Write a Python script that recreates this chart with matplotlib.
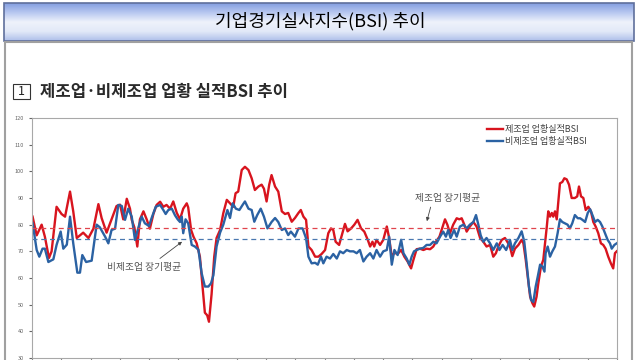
import numpy as np
import matplotlib
matplotlib.use('Agg')
import matplotlib.pyplot as plt
from matplotlib.colors import LinearSegmentedColormap
from matplotlib.patches import Rectangle

plt.rcParams['font.family'] = ['Noto Sans CJK KR', 'DejaVu Sans']

# 경과 연수 (2003년 1월 = 0), 업황실적 BSI
mfg_t = [0.02, 0.16, 0.33, 0.44, 0.58, 0.67, 0.84, 1.01, 1.13, 1.30, 1.41, 1.53, 1.75, 1.93, 2.10, 2.27,
         2.38, 2.55, 2.72, 2.89, 3.01, 3.12, 3.24, 3.35,
         3.41, 3.50, 3.60, 3.69, 3.81, 3.92, 4.03, 4.15, 4.26, 4.38, 4.49, 4.60, 4.72, 4.83, 4.95, 5.06,
         5.17, 5.29, 5.34, 5.44, 5.52, 5.63, 5.74, 5.82, 5.91, 5.99, 6.05, 6.14, 6.23, 6.31, 6.43,
         6.54, 6.66, 6.77, 6.88, 6.96, 7.05, 7.17, 7.28, 7.40, 7.51, 7.62, 7.74, 7.85, 7.93, 8.02, 8.11,
         8.19, 8.31, 8.42, 8.54, 8.65, 8.76, 8.88, 8.99, 9.11, 9.19, 9.28, 9.37, 9.45, 9.56, 9.68, 9.79,
         9.90, 10.02, 10.13, 10.22, 10.30, 10.38, 10.50, 10.61, 10.70, 10.79, 10.91, 11.02, 11.13, 11.25,
         11.36, 11.48, 11.56, 11.64, 11.70, 11.78, 11.90, 12.01, 12.13, 12.21, 12.30, 12.39, 12.50, 12.62,
         12.73, 12.84, 12.96, 13.04,
         13.15, 13.26, 13.38, 13.49, 13.61, 13.72, 13.81, 13.93, 14.04, 14.12, 14.20, 14.29, 14.40, 14.52,
         14.61, 14.69, 14.78, 14.86, 14.97, 15.09, 15.20, 15.32, 15.43, 15.54, 15.66, 15.77, 15.86, 15.94,
         16.06, 16.17, 16.28,
         16.34, 16.42, 16.51, 16.63, 16.74, 16.80, 16.88, 16.95, 17.03, 17.11, 17.17, 17.25, 17.31, 17.40,
         17.48, 17.54, 17.60, 17.65, 17.71, 17.77, 17.82, 17.88, 17.94, 17.99, 18.05, 18.13, 18.20, 18.28,
         18.36, 18.45, 18.56, 18.64, 18.70, 18.77, 18.85, 18.93, 19.02, 19.11, 19.19, 19.27, 19.36, 19.45,
         19.53, 19.61, 19.70, 19.79, 19.87, 19.93, 19.99]
mfg_bsi = [83, 76, 80, 75.5, 67.5, 70, 86.7, 84, 83, 92.4, 85, 75, 77, 75, 78.5, 87.7,
           82.5, 77, 82, 87, 87.5, 82, 89.7, 86,
           81.8, 79, 71.8, 82, 85, 82, 78.5, 84, 87.4, 88.6, 86.7, 87.4, 86, 88.7, 84.4, 82,
           86, 88, 86.5, 78, 75.5, 73, 68, 58, 47, 46, 43.6, 54, 68, 75, 78,
           84.3, 89.3, 88, 86.7, 91.8, 92.4, 100.5, 101.7, 100.5, 97.4, 93, 94.3, 95, 93.5, 88.7, 95,
           98.6, 94.3, 92.4, 85, 84, 84.4, 81.1, 82.5, 84.4, 85.5, 83, 81.8, 71.8, 70.5, 68, 68,
           69, 70.5, 76.8, 78.6, 78, 73.6, 72.4, 76.8, 80.3, 77.5, 78.6, 80, 81.8, 78.6,
           77.4, 74.3, 71.8, 73.6, 71.8, 74.3, 72.4, 74.3, 79.3, 75, 68, 69.5, 69, 70.5,
           68, 66.2, 63.6, 66.8,
           70.8, 71, 70.5, 71, 70.8, 71.8, 73.6, 75.5, 79.3, 82, 80, 76.8, 80, 82.4,
           82, 82.4, 80, 77.4, 79.3, 81, 79.3, 75, 73.6, 71.8, 72.4, 68, 69.3, 71.8,
           74.3, 75, 73,
           71.8, 68.2, 71, 72.4, 74.3, 73, 66.8, 60.5, 53, 50.5, 49.3, 53, 58, 64.3,
           66.8, 73, 79.3, 85, 83, 84.4, 83, 85, 82, 88, 95.5, 96, 97.4, 97,
           95, 90, 90, 90.6, 94.3, 90.6, 90, 85.5, 86.7, 85, 81, 79.3, 76.8, 73,
           72.4, 71, 68, 65.5, 63.6, 69.3, 70]

nonmfg_t = [0.02, 0.16, 0.25, 0.36, 0.44, 0.56, 0.73, 0.84, 0.98, 1.07, 1.19, 1.30, 1.41, 1.55, 1.64,
            1.72, 1.85, 2.04, 2.21, 2.32, 2.50, 2.61, 2.72, 2.84, 2.95, 3.07, 3.18, 3.29,
            3.41, 3.52, 3.64, 3.75, 3.86, 4.00, 4.09, 4.23, 4.38, 4.49, 4.57, 4.66, 4.78, 4.89, 4.98,
            5.06, 5.12, 5.17, 5.25, 5.34, 5.46, 5.57, 5.69, 5.80, 5.91, 6.03, 6.12, 6.20, 6.31, 6.43,
            6.54, 6.68, 6.77, 6.86, 6.97, 7.09, 7.20, 7.28, 7.40, 7.51, 7.60, 7.70, 7.82, 7.93, 8.05,
            8.19, 8.31, 8.42, 8.54, 8.65, 8.76, 8.85, 8.99, 9.11, 9.25, 9.37, 9.45, 9.56, 9.68, 9.77,
            9.88, 9.96, 10.07, 10.19, 10.30, 10.42, 10.53, 10.64, 10.76, 10.87, 10.99, 11.10, 11.21,
            11.33, 11.44, 11.56, 11.67, 11.78, 11.90, 12.01, 12.13, 12.21, 12.30, 12.39, 12.50, 12.62,
            12.70, 12.81, 12.90, 12.98, 13.06,
            13.15, 13.26, 13.38, 13.49, 13.61, 13.72, 13.83, 13.95, 14.06, 14.15, 14.23, 14.31, 14.43,
            14.52, 14.63, 14.75, 14.86, 14.97, 15.09, 15.18, 15.26, 15.34, 15.43, 15.54, 15.66, 15.77,
            15.89, 15.98, 16.09, 16.21,
            16.26, 16.34, 16.42, 16.51, 16.63, 16.74, 16.83, 16.91, 16.99, 17.06, 17.14, 17.22, 17.29,
            17.37, 17.45, 17.52, 17.56, 17.63, 17.71, 17.79, 17.88, 17.97, 18.05, 18.13, 18.22, 18.31,
            18.39, 18.47, 18.56, 18.66, 18.74, 18.82, 18.91, 19.00, 19.08, 19.16, 19.25, 19.34, 19.42,
            19.50, 19.59, 19.68, 19.76, 19.82, 19.91, 19.99]
nonmfg_bsi = [80.6, 70.5, 68, 71, 71, 66, 67, 72.4, 77.4, 71, 72.5, 83, 73, 62, 62,
              68.6, 66, 66.5, 80, 79, 75.5, 73, 78, 78.5, 87.4, 87, 81.8, 86,
              83, 74.3, 79, 83, 80.5, 79.5, 82.5, 86.7, 87.4, 85.5, 84, 85.5, 86, 83.5, 82,
              81, 83, 76.8, 82, 80.5, 72.4, 71.8, 70.6, 61.8, 56.8, 56.8, 58, 61, 71.8, 77,
              80, 85.5, 82.5, 88, 86, 85.5, 87.4, 88.7, 86, 85.5, 81.1, 83.6, 86, 83, 78.6,
              81, 82.5, 81, 78, 78.6, 76.1, 77.4, 75.5, 78.6, 78.6, 74.9, 68, 65.5, 65.7, 65,
              68, 65.5, 68, 67.3, 69, 67.3, 70, 69.3, 70.5, 70, 70, 69.3, 70.5,
              66.2, 68, 69.3, 67.3, 70.5, 68, 70, 70.5, 75.5, 65, 70.5, 68.6, 74.3,
              69.3, 67.3, 65, 68, 70,
              70.5, 71, 71.3, 72.4, 72.4, 73.6, 73, 75.5, 77.4, 75.5, 78, 75, 78,
              75.5, 79.3, 80, 78.6, 80, 81, 83.6, 80, 76, 73.6, 75, 73, 70.5,
              73, 70.5, 72.4, 70.5,
              71.8, 74.3, 70.5, 73, 75, 77.5, 73.6, 65.5, 56.8, 51.8, 51, 56.8, 60.5,
              65, 64.3, 62.4, 69.3, 71.8, 68, 70, 71.8, 76.8, 82, 81, 80.5, 80,
              78.6, 80.5, 83.6, 82.4, 82.4, 81.8, 81, 84.4, 85.8, 83.6, 81, 81.8, 81,
              79.3, 76.8, 74.3, 73, 71, 72.4, 73]

# 장기평균
mfg_avg = 78.7
nonmfg_avg = 74.7

year_ticks = np.arange(0, 21)
y_ticks = np.arange(30, 121, 10)

fig = plt.figure(figsize=(6.4, 3.6), dpi=100)

# 배경: 제목 막대와 테두리 (픽셀 좌표)
bg = fig.add_axes([0, 0, 1, 1], zorder=0)
bg.set_xlim(0, 640)
bg.set_ylim(360, 0)
bg.axis('off')
bar_cmap = LinearSegmentedColormap.from_list(
    'bar', ['#849ee0', '#b8c8f0', '#eef2fb', '#e2e9f8', '#aebfea'])
grad = np.linspace(0, 1, 100).reshape(-1, 1)
bg.imshow(grad, extent=[4, 634, 41, 3], aspect='auto', cmap=bar_cmap)
bg.add_patch(Rectangle((4, 3), 630, 38, fill=False, edgecolor='#5f6f9c', lw=1.2))
bg.add_patch(Rectangle((5, 42), 627, 330, facecolor='white', edgecolor='#a0a0a0', lw=1.5))
bg.text(320, 21, '기업경기실사지수(BSI) 추이', fontsize=13, fontweight='medium',
        ha='center', va='center', color='#000000')

# 소제목
bg.add_patch(Rectangle((13, 84), 17, 15, fill=False, edgecolor='#333333', lw=0.8))
bg.text(21.5, 91.5, '1', fontsize=9, ha='center', va='center', color='#222222')
bg.text(40, 91.5, '제조업·비제조업 업황 실적BSI 추이', fontsize=12, fontweight='bold',
        ha='left', va='center', color='#2a2a2a')

# 본 차트
ax = fig.add_axes([32 / 640, 2 / 360, 585 / 640, 240 / 360], zorder=1)
ax.plot(mfg_t, mfg_bsi, color='#d8141e', lw=1.7, label='제조업 업황실적BSI')
ax.plot(nonmfg_t, nonmfg_bsi, color='#2b62a3', lw=1.7, label='비제조업 업황실적BSI')
ax.axhline(mfg_avg, color='#e0444c', lw=0.9, dashes=(4, 3))
ax.axhline(nonmfg_avg, color='#4a78b0', lw=0.9, dashes=(4, 3))

ax.set_xlim(0, 20)
ax.set_ylim(30, 120)
ax.set_xticks(year_ticks)
ax.set_xticklabels([])
ax.set_yticks(y_ticks)
ax.set_yticklabels([str(v) for v in y_ticks])
ax.tick_params(axis='y', labelsize=4, colors='#666666', length=2, pad=4)
ax.tick_params(axis='x', length=3, colors='#888888')
for s in ax.spines.values():
    s.set_color('#a8a8a8')
    s.set_linewidth(0.8)

ax.annotate('제조업 장기평균', xy=(13.5, 81.3), xytext=(14.2, 90.0),
            fontsize=7, color='#555555', ha='center', va='center',
            arrowprops=dict(arrowstyle='-|>', color='#444444', lw=0.6,
                            mutation_scale=5, relpos=(0.26, 0), shrinkA=1, shrinkB=0))
ax.annotate('비제조업 장기평균', xy=(5.13, 73.6), xytext=(3.83, 64.1),
            fontsize=7, color='#555555', ha='center', va='center',
            arrowprops=dict(arrowstyle='-|>', color='#444444', lw=0.6,
                            mutation_scale=5, relpos=(0.65, 1), shrinkA=1, shrinkB=0))

leg = ax.legend(loc='upper right', bbox_to_anchor=(0.955, 0.985), frameon=False,
                fontsize=6.5, handlelength=1.8, handletextpad=0.2, labelspacing=0.3,
                borderaxespad=0)
for t in leg.get_texts():
    t.set_color('#404040')

fig.savefig('out.png', dpi=100)
